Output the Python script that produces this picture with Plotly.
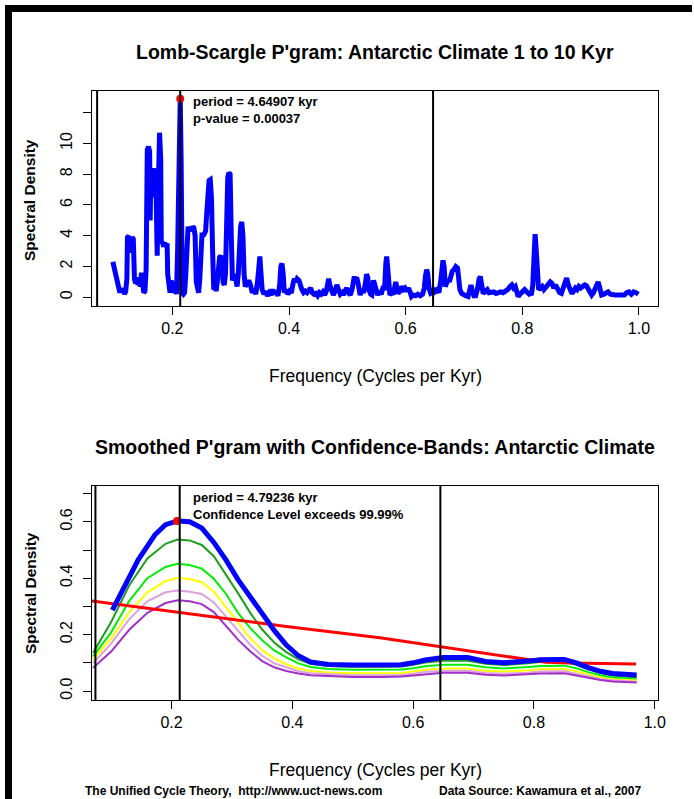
import plotly.graph_objects as go

W, H = 694, 799

# ---- top panel: Lomb-Scargle periodogram ----
ls_freq = [
    0.098, 0.100, 0.102, 0.104, 0.106, 0.108, 0.110, 0.112, 0.114, 0.116, 0.118, 0.120,
    0.122, 0.123, 0.125, 0.126, 0.127, 0.128, 0.130, 0.131, 0.133, 0.134, 0.135, 0.137,
    0.139, 0.141, 0.143, 0.145, 0.147, 0.149, 0.151, 0.153, 0.155, 0.157, 0.159, 0.161,
    0.162, 0.163, 0.165, 0.166, 0.168, 0.170, 0.172, 0.174, 0.175, 0.177, 0.178, 0.180,
    0.181, 0.183, 0.185, 0.187, 0.189, 0.191, 0.192, 0.194, 0.196, 0.198, 0.200, 0.202,
    0.204, 0.206, 0.207, 0.209, 0.211, 0.2135, 0.215, 0.216, 0.217, 0.219, 0.221, 0.223,
    0.225, 0.227, 0.229, 0.231, 0.233, 0.235, 0.237, 0.239, 0.241, 0.243, 0.245, 0.247,
    0.249, 0.251, 0.253, 0.255, 0.257, 0.259, 0.261, 0.263, 0.265, 0.267, 0.269, 0.271,
    0.273, 0.275, 0.277, 0.279, 0.281, 0.283, 0.285, 0.287, 0.289, 0.291, 0.293, 0.295,
    0.297, 0.299, 0.301, 0.303, 0.305, 0.307, 0.309, 0.311, 0.313, 0.315, 0.317, 0.319,
    0.321, 0.323, 0.325, 0.328, 0.331, 0.334, 0.337, 0.340, 0.343, 0.346, 0.348, 0.350,
    0.352, 0.354, 0.357, 0.360, 0.363, 0.366, 0.369, 0.372, 0.375, 0.378, 0.381, 0.384,
    0.386, 0.388, 0.390, 0.392, 0.395, 0.398, 0.401, 0.404, 0.407, 0.409, 0.412, 0.414,
    0.417, 0.419, 0.422, 0.425, 0.428, 0.431, 0.434, 0.437, 0.440, 0.443, 0.446, 0.449,
    0.452, 0.455, 0.458, 0.461, 0.464, 0.466, 0.468, 0.470, 0.473, 0.476, 0.479, 0.482,
    0.485, 0.488, 0.491, 0.493, 0.496, 0.499, 0.502, 0.505, 0.508, 0.510, 0.512, 0.514,
    0.516, 0.518, 0.520, 0.522, 0.525, 0.528, 0.531, 0.533, 0.535, 0.537, 0.540, 0.542,
    0.545, 0.547, 0.549, 0.552, 0.555, 0.558, 0.561, 0.564, 0.566, 0.5675, 0.569, 0.571,
    0.573, 0.576, 0.579, 0.581, 0.583, 0.585, 0.587, 0.590, 0.593, 0.596, 0.599, 0.602,
    0.605, 0.608, 0.610, 0.613, 0.617, 0.621, 0.625, 0.629, 0.632, 0.634, 0.636, 0.638,
    0.640, 0.643, 0.646, 0.649, 0.651, 0.654, 0.657, 0.660, 0.662, 0.664, 0.666, 0.668,
    0.670, 0.673, 0.675, 0.677, 0.680, 0.683, 0.686, 0.689, 0.691, 0.693, 0.696, 0.699,
    0.703, 0.707, 0.710, 0.712, 0.714, 0.717, 0.720, 0.723, 0.726, 0.728, 0.730, 0.733,
    0.737, 0.740, 0.743, 0.747, 0.751, 0.755, 0.759, 0.763, 0.767, 0.771, 0.775, 0.779,
    0.782, 0.785, 0.788, 0.791, 0.793, 0.796, 0.800, 0.804, 0.808, 0.812, 0.816, 0.818,
    0.820, 0.822, 0.824, 0.826, 0.828, 0.831, 0.834, 0.837, 0.841, 0.845, 0.848, 0.851,
    0.854, 0.857, 0.860, 0.864, 0.867, 0.870, 0.873, 0.876, 0.879, 0.882, 0.885, 0.888,
    0.891, 0.894, 0.897, 0.900, 0.903, 0.907, 0.910, 0.913, 0.916, 0.919, 0.922, 0.925,
    0.928, 0.930, 0.933, 0.936, 0.940, 0.944, 0.947, 0.951, 0.955, 0.959, 0.963, 0.967,
    0.971, 0.975, 0.979, 0.983, 0.987, 0.991, 0.995, 0.999,
]
ls_power = [
    2.3, 2.0, 1.6, 1.2, 0.8, 0.5, 0.3, 0.6, 0.3, 0.5, 0.2, 0.4,
    1.2, 3.9, 4.0, 3.2, 3.9, 2.9, 3.5, 3.9, 3.8, 2.0, 1.2, 0.9,
    1.3, 0.8, 1.1, 0.7, 1.6, 0.9, 0.3, 0.4, 1.8, 9.6, 9.8, 9.5,
    5.0, 8.3, 8.4, 6.5, 8.3, 8.2, 7.0, 2.7, 5.5, 10.0, 10.7, 9.0,
    3.5, 3.6, 3.3, 3.5, 3.4, 3.5, 1.5, 0.4, 0.3, 1.1, 0.5, 0.3,
    1.0, 0.6, 0.2, 3.0, 9.0, 12.9, 9.0, 3.0, 0.3, 0.2, 0.3, 1.5,
    4.4, 4.6, 4.3, 4.5, 4.4, 4.6, 4.5, 4.0, 1.0, 0.5, 0.3, 1.2,
    4.1, 4.2, 4.0, 4.1, 4.3, 5.5, 7.2, 7.6, 7.65, 6.5, 3.0, 0.5,
    0.8, 0.4, 1.0, 2.5, 2.6, 2.7, 2.4, 1.0, 0.8, 1.5, 5.0, 7.8,
    8.1, 8.0, 4.0, 1.1, 1.3, 1.5, 1.2, 0.7, 1.5, 3.5, 4.6, 4.9,
    4.0, 1.5, 0.7, 0.9, 1.1, 0.8, 0.3, 0.5, 0.2, 1.0, 2.4, 2.65,
    1.5, 0.5, 0.2, 0.4, 0.1, 0.3, 0.15, 0.5, 0.2, 0.4, 0.1, 0.8,
    2.0, 2.2, 1.5, 0.3, 0.5, 0.2, 0.4, 0.3, 0.9, 1.2, 1.0, 1.2,
    1.1, 0.7, 0.5, 0.3, 0.4, 0.3, 0.5, 0.6, 0.3, 0.2, 0.25, 0.1,
    0.3, 0.2, 0.35, 0.15, 0.4, 0.9, 1.2, 0.8, 0.3, 0.15, 0.4, 0.8,
    0.5, 0.2, 0.3, 0.15, 0.4, 0.6, 0.3, 0.15, 0.5, 1.2, 1.35, 0.9,
    1.3, 1.0, 0.4, 0.15, 0.5, 0.3, 0.9, 1.5, 1.3, 0.5, 0.2, 0.15,
    1.1, 0.8, 0.3, 0.15, 0.4, 0.2, 0.6, 0.6, 2.2, 2.65, 2.0, 0.5,
    0.15, 0.3, 0.2, 0.6, 1.0, 0.6, 0.25, 0.4, 0.7, 0.5, 0.6, 0.4,
    0.6, 0.3, 0.05, 0.15, 0.1, 0.2, 0.1, 0.2, 0.6, 1.4, 1.8, 1.5,
    0.6, 0.25, 0.3, 0.6, 0.4, 0.5, 0.3, 1.0, 2.2, 2.4, 2.0, 0.7,
    0.9, 1.15, 1.0, 1.4, 1.7, 1.8, 2.0, 1.9, 1.2, 0.5, 0.25, 0.15,
    0.1, 0.05, 0.4, 0.8, 0.5, 0.1, 0.1, 0.5, 1.2, 1.35, 0.9, 0.25,
    0.4, 0.5, 0.3, 0.3, 0.35, 0.25, 0.3, 0.35, 0.3, 0.4, 0.5, 0.7,
    0.8, 0.6, 0.7, 0.3, 0.05, 0.2, 0.4, 0.5, 0.35, 0.2, 0.25, 0.8,
    2.5, 4.1, 3.0, 0.8, 0.5, 0.6, 0.7, 0.5, 0.7, 0.9, 1.0, 0.9,
    0.6, 0.8, 0.5, 0.3, 0.25, 0.6, 1.1, 1.25, 0.8, 0.4, 0.25, 0.4,
    0.6, 0.5, 0.7, 0.6, 0.7, 0.8, 0.75, 0.5, 0.3, 0.15, 0.3, 0.6,
    0.9, 1.0, 0.6, 0.15, 0.2, 0.3, 0.35, 0.2, 0.15, 0.15, 0.15, 0.15,
    0.2, 0.15, 0.3, 0.35, 0.2, 0.35, 0.3, 0.2,
]
ls_peak_freq, ls_peak_power = 0.2135, 12.9
ls_marks = [0.071, 0.2135, 0.647]

# ---- bottom panel: smoothed periodogram + confidence bands ----
sm_freq = [0.102, 0.117, 0.13, 0.145, 0.16, 0.1725, 0.19, 0.21, 0.23, 0.25, 0.27, 0.29,
           0.31, 0.33, 0.35, 0.37, 0.39, 0.41, 0.43, 0.46, 0.50, 0.55, 0.58, 0.60,
           0.62, 0.65, 0.69, 0.72, 0.75, 0.79, 0.81, 0.85, 0.87, 0.89, 0.91, 0.93, 0.97]
sm_power = [0.287, 0.347, 0.400, 0.466, 0.514, 0.554, 0.590, 0.603, 0.600, 0.578, 0.527, 0.465,
            0.395, 0.333, 0.274, 0.215, 0.163, 0.125, 0.103, 0.094, 0.092, 0.092, 0.093, 0.100,
            0.110, 0.119, 0.119, 0.105, 0.100, 0.106, 0.111, 0.112, 0.100, 0.083, 0.070, 0.062,
            0.057]

band_freq = [0.07, 0.10, 0.13, 0.16, 0.19, 0.21, 0.23, 0.25, 0.27, 0.29, 0.31, 0.33,
             0.35, 0.37, 0.39, 0.41, 0.43, 0.46, 0.50, 0.55, 0.58, 0.60, 0.62, 0.65,
             0.69, 0.72, 0.75, 0.79, 0.81, 0.85, 0.87, 0.89, 0.91, 0.93, 0.97]
band_darkgreen = [0.135, 0.245, 0.375, 0.470, 0.522, 0.537, 0.534, 0.518, 0.478, 0.413, 0.347, 0.278,
                  0.218, 0.172, 0.138, 0.112, 0.097, 0.089, 0.086, 0.086, 0.087, 0.093, 0.101, 0.107,
                  0.107, 0.097, 0.092, 0.098, 0.103, 0.104, 0.093, 0.077, 0.064, 0.055, 0.048]
band_green = [0.123, 0.208, 0.320, 0.400, 0.440, 0.451, 0.447, 0.434, 0.398, 0.345, 0.277, 0.224,
              0.180, 0.144, 0.119, 0.098, 0.085, 0.078, 0.075, 0.075, 0.076, 0.081, 0.088, 0.093,
              0.093, 0.084, 0.080, 0.085, 0.089, 0.090, 0.081, 0.067, 0.056, 0.048, 0.041]
band_yellow = [0.111, 0.186, 0.280, 0.350, 0.390, 0.401, 0.397, 0.386, 0.352, 0.298, 0.241, 0.188,
               0.145, 0.116, 0.095, 0.080, 0.071, 0.066, 0.063, 0.063, 0.064, 0.069, 0.075, 0.080,
               0.080, 0.072, 0.069, 0.073, 0.077, 0.078, 0.070, 0.058, 0.048, 0.042, 0.037]
band_plum = [0.099, 0.168, 0.255, 0.318, 0.350, 0.356, 0.352, 0.344, 0.314, 0.264, 0.212, 0.164,
             0.125, 0.098, 0.084, 0.070, 0.063, 0.059, 0.056, 0.056, 0.057, 0.061, 0.067, 0.072,
             0.072, 0.064, 0.061, 0.065, 0.069, 0.070, 0.062, 0.052, 0.043, 0.038, 0.033]
band_orchid = [0.082, 0.140, 0.217, 0.277, 0.312, 0.322, 0.318, 0.308, 0.280, 0.232, 0.182, 0.141,
               0.106, 0.084, 0.071, 0.062, 0.056, 0.053, 0.050, 0.050, 0.051, 0.055, 0.060, 0.065,
               0.065, 0.058, 0.055, 0.059, 0.062, 0.063, 0.056, 0.047, 0.039, 0.034, 0.030]

red_freq = [0.068, 0.21, 0.39, 0.545, 0.645, 0.80, 0.82, 0.86, 0.969]
red_power = [0.319, 0.279, 0.229, 0.189, 0.157, 0.108, 0.102, 0.099, 0.096]

sm_peak_freq, sm_peak_power = 0.209, 0.603
sm_marks = [0.074, 0.2135, 0.645]

FONT = "Liberation Sans, Arial, sans-serif"


def px(x):
    return x / W


def py(y):
    return 1 - y / H


fig = go.Figure()

# top panel
fig.add_trace(go.Scatter(x=ls_freq, y=ls_power, mode="lines",
                         line=dict(color="#0000ff", width=5), xaxis="x", yaxis="y"))
fig.add_trace(go.Scatter(x=[ls_peak_freq], y=[ls_peak_power], mode="markers",
                         marker=dict(color="#ff0000", size=8), xaxis="x", yaxis="y"))

# bottom panel
bands = [(band_darkgreen, "#1c9f1c"), (band_green, "#00ee00"), (band_yellow, "#ffff00"),
         (band_plum, "#dda0dd"), (band_orchid, "#a030c8")]
for vals, col in bands:
    fig.add_trace(go.Scatter(x=band_freq, y=vals, mode="lines",
                             line=dict(color=col, width=2), xaxis="x2", yaxis="y2"))
fig.add_trace(go.Scatter(x=red_freq, y=red_power, mode="lines",
                         line=dict(color="#ff0000", width=3), xaxis="x2", yaxis="y2"))
fig.add_trace(go.Scatter(x=sm_freq, y=sm_power, mode="lines",
                         line=dict(color="#0000ff", width=5), xaxis="x2", yaxis="y2"))
fig.add_trace(go.Scatter(x=[sm_peak_freq], y=[sm_peak_power], mode="markers",
                         marker=dict(color="#ff0000", size=8), xaxis="x2", yaxis="y2"))

shapes = []
for f in ls_marks:
    shapes.append(dict(type="line", xref="x", yref="y domain", x0=f, x1=f, y0=0, y1=1,
                       line=dict(color="black", width=2)))
for f in sm_marks:
    shapes.append(dict(type="line", xref="x2", yref="y2 domain", x0=f, x1=f, y0=0, y1=1,
                       line=dict(color="black", width=2)))
# heavy black frame on the left and top
shapes.append(dict(type="rect", xref="paper", yref="paper", x0=px(5), x1=px(12), y0=0, y1=py(5),
                   fillcolor="black", line_width=0))
shapes.append(dict(type="rect", xref="paper", yref="paper", x0=px(5), x1=px(692), y0=py(12), y1=py(5),
                   fillcolor="black", line_width=0))


def ann(x, y, text, size, bold=False, xanchor="center", angle=0):
    return dict(x=px(x), y=py(y), xref="paper", yref="paper", text=f"<b>{text}</b>" if bold else text,
                showarrow=False, xanchor=xanchor, yanchor="middle", textangle=angle,
                font=dict(family=FONT, size=size, color="black"))


annotations = [
    ann(375, 52, "Lomb-Scargle P'gram: Antarctic Climate 1 to 10 Kyr", 19.5, True),
    ann(375, 447, "Smoothed P'gram with Confidence-Bands: Antarctic Climate", 19.5, True),
    ann(375, 376, "Frequency (Cycles per Kyr)", 17.5),
    ann(375, 770, "Frequency (Cycles per Kyr)", 17.5),
    ann(30, 200, "Spectral Density", 15.5, True, angle=-90),
    ann(30, 593, "Spectral Density", 15.5, True, angle=-90),
    ann(191, 102, "period = 4.64907 kyr", 13, True, "left"),
    ann(191, 118, "p-value = 0.00037", 13, True, "left"),
    ann(191, 497, "period = 4.79236 kyr", 13, True, "left"),
    ann(191, 514, "Confidence Level exceeds 99.99%", 13, True, "left"),
    ann(83, 791, "The Unified Cycle Theory,  http://www.uct-news.com", 12, True, "left"),
    ann(437, 791, "Data Source: Kawamura et al., 2007", 12, True, "left"),
]

xdom = [px(92), px(658)]
axis_common = dict(showline=True, linecolor="black", linewidth=1, mirror=True, showgrid=False,
                   zeroline=False, ticks="outside", ticklen=8, tickcolor="black", automargin=False,
                   tickfont=dict(family=FONT, size=16, color="black"))
xticks = [0.2, 0.4, 0.6, 0.8, 1.0]
xtext = ["0.2", "0.4", "0.6", "0.8", "1.0"]

fig.update_layout(
    width=W, height=H,
    margin=dict(l=0, r=0, t=0, b=0),
    paper_bgcolor="white", plot_bgcolor="white",
    showlegend=False,
    xaxis=dict(domain=xdom, anchor="y", range=[0.0622, 1.0327], tickvals=xticks, ticktext=xtext,
               **axis_common),
    yaxis=dict(domain=[py(306), py(91)], anchor="x", range=[-0.566, 13.41],
               tickvals=[0, 2, 4, 6, 8, 10, 12], ticktext=["0", "2", "4", "6", "8", "10", ""],
               tickangle=-90, ticklabelstandoff=5, **axis_common),
    xaxis2=dict(domain=xdom, anchor="y2", range=[0.0683, 1.0053], tickvals=xticks, ticktext=xtext,
                **axis_common),
    yaxis2=dict(domain=[py(700), py(486)], anchor="x2", range=[-0.0319, 0.727],
                tickvals=[0, 0.1, 0.2, 0.3, 0.4, 0.5, 0.6, 0.7],
                ticktext=["0.0", "", "0.2", "", "0.4", "", "0.6", ""],
                tickangle=-90, ticklabelstandoff=5, **axis_common),
    shapes=shapes,
    annotations=annotations,
)

# drop the page's default body margin so the figure sits at the window's corner
fig.write_html("out.html", config={"displayModeBar": False},
               post_script="document.body.style.margin = '0';")
